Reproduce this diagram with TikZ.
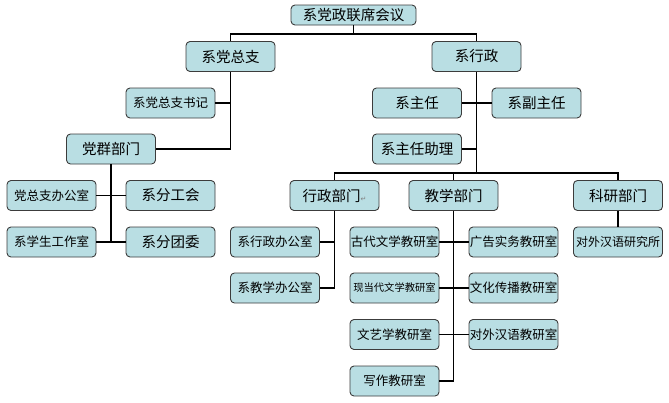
\documentclass[tikz,border=0pt]{standalone}
\usepackage{fontspec}
\newfontfamily\cjk{Noto Sans CJK SC}
\newfontfamily\dejavu{DejaVu Sans}
\definecolor{orgFill}{RGB}{185,222,227}
\definecolor{orgLine}{RGB}{60,60,60}
\begin{document}
\begin{tikzpicture}[x=1pt,y=-1pt,
    orgBk/.style={rectangle,rounded corners=4pt,draw=orgLine,line width=0.9pt,fill=orgFill,minimum width=89pt,minimum height=30pt,inner sep=0pt,font=\cjk\fontsize{14.5}{16}\selectfont},
    orgSm/.style={orgBk,font=\cjk\fontsize{12.5}{14}\selectfont},
    orgArr/.style={line width=1.6pt,black},
]
\useasboundingbox (0,0) rectangle (669,402);
\node[orgBk,minimum width=125pt,minimum height=20pt,font=\cjk\fontsize{14.5}{16}\selectfont] (meet) at (353.5,15) {系党政联席会议};
\node[orgBk] (party) at (230.5,56.5) {系党总支};
\node[orgBk] (admin) at (476.5,56.5) {系行政};
\node[orgSm] (partySec) at (170.5,103) {系党总支书记};
\node[orgBk] (masses) at (111,149) {党群部门};
\node[orgSm] (pOffice) at (51.5,195.5) {党总支办公室};
\node[orgBk] (union) at (170.5,195.5) {系分工会};
\node[orgSm] (stuOffice) at (51.5,242) {系学生工作室};
\node[orgBk] (league) at (170.5,242) {系分团委};
\node[orgBk] (head) at (417,103) {系主任};
\node[orgBk] (vHead) at (536.5,103) {系副主任};
\node[orgBk] (asst) at (417,149) {系主任助理};
\node[orgBk] (adminDept) at (334.5,195.5) {行政部门{\dejavu\color{gray}\fontsize{7}{8}\selectfont↵}};
\node[orgBk] (teachDept) at (453.5,195.5) {教学部门};
\node[orgBk] (resDept) at (618,195.5) {科研部门};
\node[orgSm] (adminOff) at (275,242) {系行政办公室};
\node[orgSm] (teachOff) at (275,288) {系教学办公室};
\node[orgSm] (anc) at (394.5,242) {古代文学教研室};
\node[orgSm] (adv) at (513.5,242) {广告实务教研室};
\node[orgSm,font=\cjk\fontsize{10.3}{12}\selectfont] (mod) at (394.5,288) {现当代文学教研室};
\node[orgSm] (cult) at (513.5,288) {文化传播教研室};
\node[orgSm] (lit) at (394.5,334.5) {文艺学教研室};
\node[orgSm] (tcfl) at (513.5,334.5) {对外汉语教研室};
\node[orgSm] (writ) at (394.5,381) {写作教研室};
\node[orgSm,font=\cjk\fontsize{12}{14}\selectfont] (inst) at (618,242) {对外汉语研究所};
% Top level
\coordinate (topBus) at (353.5,34);
\coordinate (admBus) at (476.5,173);
\draw[orgArr] (meet.south) -- (topBus);
\draw[orgArr] (party.north) |- (topBus) -| (admin.north);
% Party side
\draw[orgArr] (party.south) |- (masses.east);
\draw[orgArr] (partySec.east) -- (partySec.east -| party.south);
\draw[orgArr] (masses.south) -- (masses.south |- stuOffice.east);
\draw[orgArr] (pOffice.east) -- (union.west);
\draw[orgArr] (stuOffice.east) -- (league.west);
% Admin side
\draw[orgArr] (admin.south) -- (admBus);
\draw[orgArr] (head.east) -- (vHead.west);
\draw[orgArr] (asst.east) -- (asst.east -| admin.south);
\draw[orgArr] (adminDept.north) |- (admBus) -| (resDept.north);
\draw[orgArr] (teachDept.north) -- (teachDept.north |- admBus);
\draw[orgArr] (adminDept.south) |- (teachOff.east);
\draw[orgArr] (adminOff.east) -- (adminOff.east -| adminDept.south);
\draw[orgArr] (teachDept.south) |- (writ.east);
\draw[orgArr] (anc.east) -- (adv.west);
\draw[orgArr] (mod.east) -- (cult.west);
\draw[orgArr] (lit.east) -- (tcfl.west);
\draw[orgArr] (resDept.south) -- (inst.north);
\end{tikzpicture}
\end{document}
